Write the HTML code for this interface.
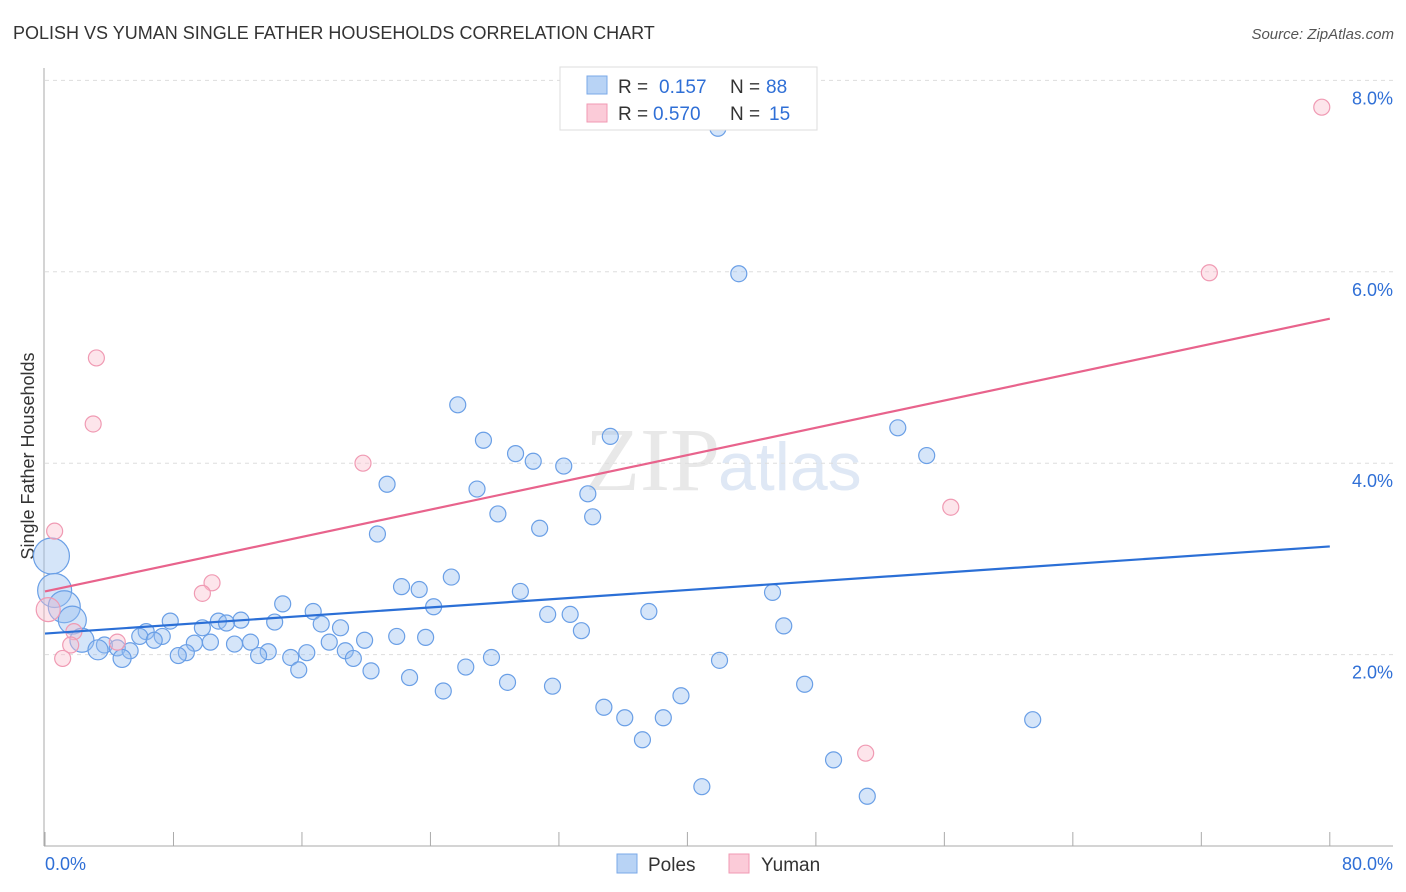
<!DOCTYPE html>
<html><head><meta charset="utf-8"><style>
body{margin:0;background:#fff;font-family:"Liberation Sans",sans-serif;}
svg{display:block}
</style></head><body>
<svg id="chart" width="1406" height="892" viewBox="0 0 1406 892" xmlns="http://www.w3.org/2000/svg">
<text x="13" y="39" font-size="18" fill="#333">POLISH VS YUMAN SINGLE FATHER HOUSEHOLDS CORRELATION CHART</text>
<text x="1394" y="39" font-size="15" fill="#555" text-anchor="end" font-style="italic">Source: ZipAtlas.com</text>
<text x="720" y="490" font-size="90" fill="#e8e8e8" text-anchor="end" font-family="Liberation Serif">ZIP</text>
<text x="718" y="490" font-size="68" fill="#dfe8f5">atlas</text>
<text transform="translate(34,456) rotate(-90)" font-size="18" fill="#333" text-anchor="middle">Single Father Households</text>
<g id="grid"></g><g id="axes"></g><g id="marks"></g><g id="lines"></g>
<g>
<rect x="560" y="67" width="257" height="63" fill="#fff" stroke="#ddd"/>
<rect x="587" y="76" width="20" height="18" fill="#b8d3f5" stroke="#7aa8e8"/>
<text x="618" y="93" font-size="19" fill="#333">R = </text><text x="659" y="93" font-size="19" fill="#2f6fd6">0.157</text>
<text x="730" y="93" font-size="19" fill="#333">N = </text><text x="766" y="93" font-size="19" fill="#2f6fd6">88</text>
<rect x="587" y="104" width="20" height="18" fill="#fbcbd8" stroke="#f09ab3"/>
<text x="618" y="120" font-size="19" fill="#333">R = </text><text x="653" y="120" font-size="19" fill="#2f6fd6">0.570</text>
<text x="730" y="120" font-size="19" fill="#333">N = </text><text x="769" y="120" font-size="19" fill="#2f6fd6">15</text>
</g>
<g>
<rect x="617" y="854" width="20" height="19" fill="#b8d3f5" stroke="#7aa8e8"/>
<text x="648" y="871" font-size="19" fill="#333">Poles</text>
<rect x="729" y="854" width="20" height="19" fill="#fbcbd8" stroke="#f09ab3"/>
<text x="761" y="871" font-size="19" fill="#333">Yuman</text>
</g>
</svg>
<script>
const polesX=[41.9,43.2,25.7,27.3,35.2,29.3,30.4,32.3,53.1,54.9,21.3,26.9,33.8,28.2,34.1,30.8,20.7,0.4,0.6,1.2,1.7,25.3,22.2,23.3,29.6,45.3,14.8,24.2,16.7,31.3,32.7,37.6,7.8,10.8,12.2,11.3,14.3,17.2,46.0,6.3,9.8,18.4,33.4,7.3,21.9,23.7,5.9,6.8,19.9,10.3,9.3,12.8,11.8,17.7,2.3,3.7,4.5,3.3,5.3,18.7,13.9,16.3,8.8,8.3,13.3,15.3,19.2,27.8,4.8,42.0,26.2,15.8,20.3,22.7,28.8,47.3,31.6,24.8,39.6,34.8,36.1,38.5,61.5,37.2,49.1,40.9,51.2];
const polesY=[7.50,5.98,4.61,4.24,4.28,4.10,4.02,3.97,4.37,4.08,3.78,3.73,3.68,3.47,3.44,3.32,3.26,3.03,2.67,2.50,2.36,2.81,2.71,2.68,2.66,2.65,2.53,2.50,2.45,2.42,2.42,2.45,2.35,2.35,2.36,2.33,2.34,2.32,2.30,2.24,2.28,2.28,2.25,2.19,2.19,2.18,2.19,2.15,2.15,2.13,2.12,2.13,2.11,2.13,2.15,2.10,2.07,2.05,2.04,2.04,2.03,2.02,2.02,1.99,1.99,1.97,1.96,1.97,1.96,1.94,1.87,1.84,1.83,1.76,1.71,1.69,1.67,1.62,1.57,1.45,1.34,1.34,1.32,1.11,0.90,0.62,0.52];
const polesR=[8,8,8,8,8,8,8,8,8,8,8,8,8,8,8,8,8,18,17,16,14,8,8,8,8,8,8,8,8,8,8,8,8,8,8,8,8,8,8,8,8,8,8,8,8,8,8,8,8,8,8,8,8,8,12,8,8,10,8,8,8,8,8,8,8,8,8,8,9,8,8,8,8,8,8,8,8,8,8,8,8,8,8,8,8,8,8];
const yumanX=[79.5,72.5,3.2,3.0,19.8,56.4,0.6,10.4,9.8,0.2,1.8,4.5,1.6,1.1,51.1];
const yumanY=[7.72,5.99,5.10,4.41,4.00,3.54,3.29,2.75,2.64,2.47,2.24,2.13,2.10,1.96,0.97];
const yumanR=[8,8,8,8,8,8,8,8,8,12,8,8,8,8,8];
const polesTrend=[2.22,3.13];
const yumanTrend=[2.66,5.51];
const yTicks=[2,4,6,8];
const yTickLabels=["2.0%","4.0%","6.0%","8.0%"];
const xTickLabels=["0.0%","80.0%"];
const NS="http://www.w3.org/2000/svg";
const sx=v=>45+v*16.06, sy=v=>846-v*95.7;
function mk(tag,attrs,parent){const e=document.createElementNS(NS,tag);for(const k in attrs)e.setAttribute(k,attrs[k]);document.getElementById(parent).appendChild(e);return e;}
yTicks.forEach((t,i)=>{
 const g=mk('line',{x1:45,x2:1393,y1:sy(t),y2:sy(t),stroke:'#ddd','stroke-dasharray':'4,4'},'grid');
 
 
 const l=mk('text',{x:1393,y:sy(t)+24,'font-size':18,fill:'#2f6fd6','text-anchor':'end'},'axes');
 l.textContent=yTickLabels[i];
 
 
});
const ax=mk('line',{x1:44,x2:44,y1:68,y2:846,stroke:'#aaa'},'axes');


const bx=mk('line',{x1:44,x2:1393,y1:846,y2:846,stroke:'#aaa'},'axes');


for(let i=0;i<=10;i++){const t=mk('line',{x1:sx(i*8),x2:sx(i*8),y1:832,y2:846,stroke:'#aaa'},'axes');
 
 }
[[0,'start',45],[80,'end',1393]].forEach((d,i)=>{const l=mk('text',{x:d[2],y:870,'font-size':18,fill:'#2f6fd6','text-anchor':d[1]},'axes');l.textContent=xTickLabels[i];
 
 });
polesX.forEach((x,i)=>{const c=mk('circle',{cx:sx(x),cy:sy(polesY[i]),r:polesR[i],fill:'rgba(150,190,240,0.4)',stroke:'#6a9fe6','stroke-width':1.2},'marks');
 
 });
yumanX.forEach((x,i)=>{const c=mk('circle',{cx:sx(x),cy:sy(yumanY[i]),r:yumanR[i],fill:'rgba(250,190,205,0.4)',stroke:'#f09ab3','stroke-width':1.2},'marks');
 
 });
const pl=mk('line',{x1:sx(0),y1:sy(polesTrend[0]),x2:sx(80),y2:sy(polesTrend[1]),stroke:'#2b6fd6','stroke-width':2.2},'lines');


const yl=mk('line',{x1:sx(0),y1:sy(yumanTrend[0]),x2:sx(80),y2:sy(yumanTrend[1]),stroke:'#e8638c','stroke-width':2.2},'lines');


</script>
</body></html>
